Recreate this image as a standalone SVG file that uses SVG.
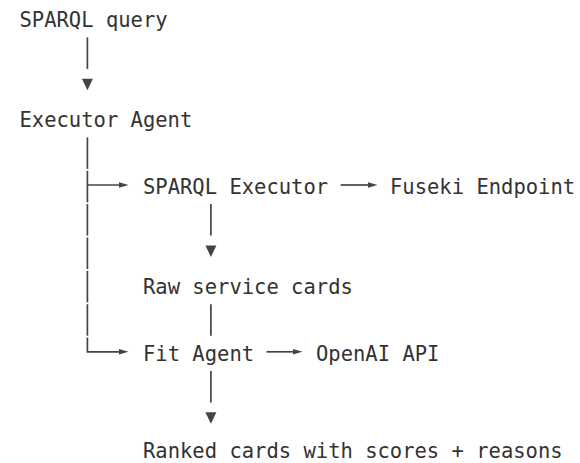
<svg xmlns="http://www.w3.org/2000/svg" width="580" height="463" viewBox="0 0 580 463">
<style>
text{font-family:"DejaVu Sans Mono","Liberation Mono",monospace;font-size:20.5px;fill:#333}
.l{stroke:#444;stroke-width:1.7;fill:none}
.h{fill:#444}
</style>
<rect width="580" height="463" fill="#fff"/>
<g id="connectors">
<line class="l" x1="87.4" y1="37.4" x2="87.4" y2="68.9"/>
<polygon class="h" points="81.9,78.7 92.9,78.7 87.4,90.2"/>
<line class="l" x1="87.4" y1="137.4" x2="87.4" y2="168.9"/>
<line class="l" x1="87.4" y1="170.8" x2="87.4" y2="202.3"/>
<line class="l" x1="87.4" y1="204.1" x2="87.4" y2="235.6"/>
<line class="l" x1="87.4" y1="237.5" x2="87.4" y2="269"/>
<line class="l" x1="87.4" y1="270.8" x2="87.4" y2="302.3"/>
<line class="l" x1="87.4" y1="304.2" x2="87.4" y2="335.7"/>
<path class="l" d="M87.4,337.5 V351.8 H120"/>
<line class="l" x1="87.4" y1="185" x2="120" y2="185"/>
<polygon class="h" points="119,182.3 128.5,185 119,187.7"/>
<polygon class="h" points="119,349.1 128.5,351.8 119,354.5"/>
<line class="l" x1="340.6" y1="185" x2="369" y2="185"/>
<polygon class="h" points="368,182.3 377.5,185 368,187.7"/>
<line class="l" x1="210.9" y1="204.1" x2="210.9" y2="235.6"/>
<polygon class="h" points="205.4,245.5 216.4,245.5 210.9,257"/>
<line class="l" x1="210.9" y1="304.2" x2="210.9" y2="335.7"/>
<line class="l" x1="266.5" y1="351.8" x2="294" y2="351.8"/>
<polygon class="h" points="293,349.1 302.5,351.8 293,354.5"/>
<line class="l" x1="210.9" y1="370.9" x2="210.9" y2="402.4"/>
<polygon class="h" points="205.4,412.2 216.4,412.2 210.9,423.7"/>
</g>
<g id="sparql-query"><text x="19.5" y="27">SPARQL query</text></g>
<g id="executor-agent"><text x="19.5" y="127">Executor Agent</text></g>
<g id="sparql-executor"><text x="143" y="193.7">SPARQL Executor</text></g>
<g id="fuseki-endpoint"><text x="390" y="193.7">Fuseki Endpoint</text></g>
<g id="raw-service-cards"><text x="143" y="293.8">Raw service cards</text></g>
<g id="fit-agent"><text x="143" y="360.5">Fit Agent</text></g>
<g id="openai-api"><text x="316" y="360.5">OpenAI API</text></g>
<g id="ranked-cards"><text x="143" y="458">Ranked cards with scores + reasons</text></g>
</svg>
